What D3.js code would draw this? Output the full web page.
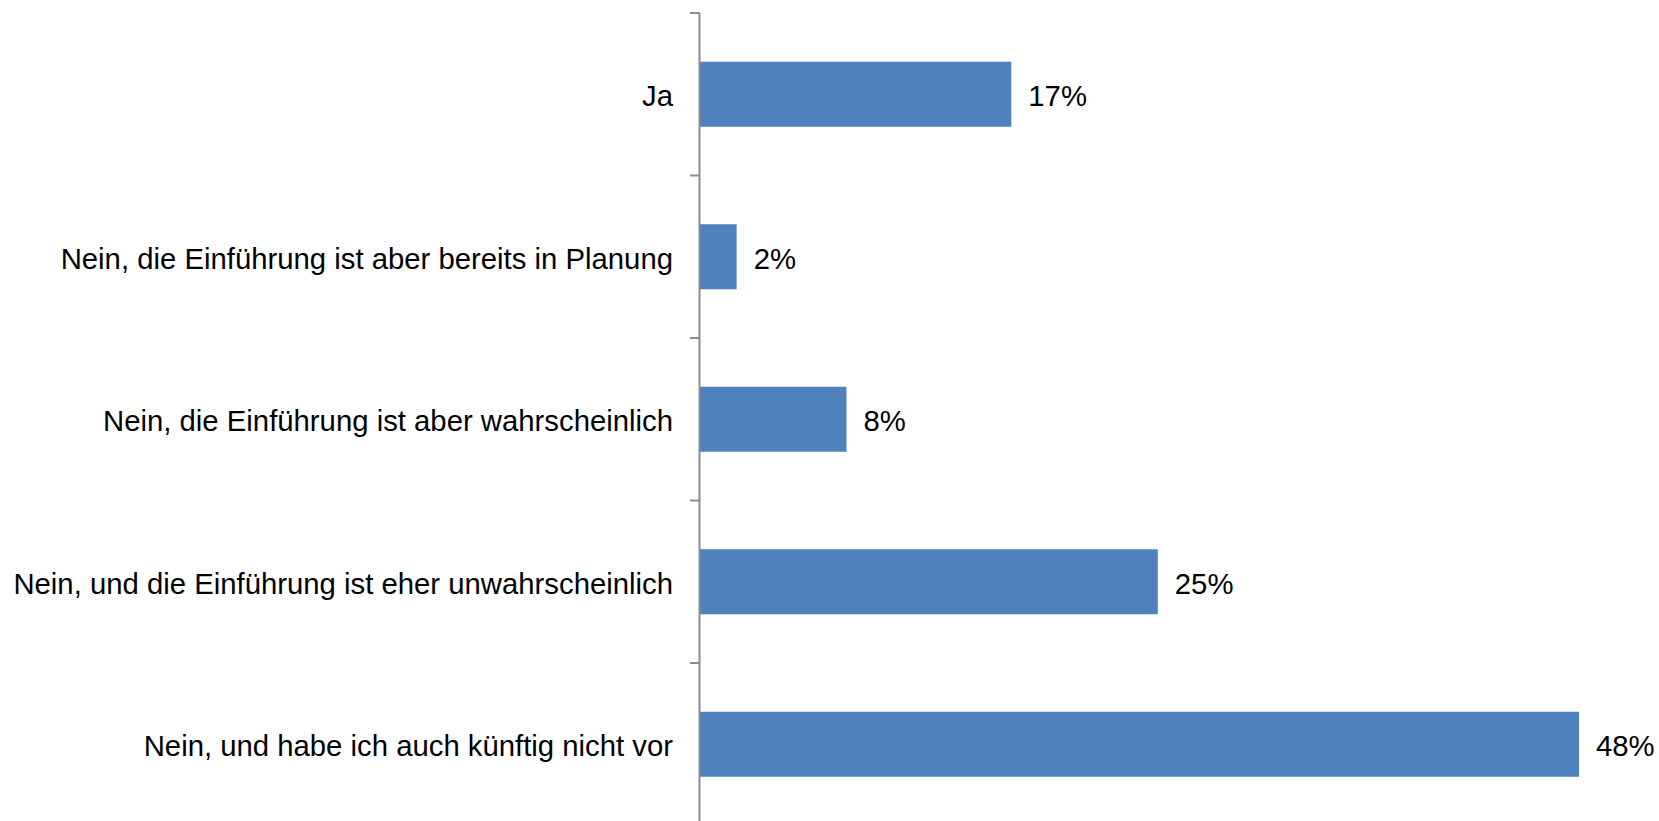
<!DOCTYPE html>
<html>
<head>
<meta charset="utf-8">
<script src="https://cdn.jsdelivr.net/npm/d3@7"></script>
<style>
  html, body { margin: 0; padding: 0; background: #fff; }
  svg { display: block; }
  text { font-family: "Liberation Sans", Arial, sans-serif; fill: #000; }
</style>
</head>
<body>
<svg id="chart" width="1659" height="821"></svg>
<script>
// Survey answers and their shares (percent)
const categories = [
  "Ja",
  "Nein, die Einführung ist aber bereits in Planung",
  "Nein, die Einführung ist aber wahrscheinlich",
  "Nein, und die Einführung ist eher unwahrscheinlich",
  "Nein, und habe ich auch künftig nicht vor"
];
const values = [17, 2, 8, 25, 48];
const valueLabels = ["17%", "2%", "8%", "25%", "48%"];

const svg = d3.select("#chart");
const axisX = 700;
const fontSize = 29.3;

const y = d3.scaleBand()
  .domain(categories)
  .range([13, 825.5])
  .paddingInner(0.6)
  .paddingOuter(0.3);

const x = d3.scaleLinear()
  .domain([0, 48])
  .range([axisX, axisX + 879]);

// bars
svg.append("g").selectAll("rect")
  .data(categories)
  .join("rect")
  .attr("x", x(0))
  .attr("y", d => y(d))
  .attr("width", (d, i) => x(values[i]) - x(0))
  .attr("height", y.bandwidth())
  .attr("fill", "#4F81BD");

// category axis: line with ticks at band boundaries
const axis = svg.append("g");
const step = y.step();
const boundaries = categories.map(c => y(c) - step * y.paddingOuter());
boundaries.push(boundaries[boundaries.length - 1] + step);
axis.append("line")
  .attr("x1", axisX - 0.5).attr("x2", axisX - 0.5)
  .attr("y1", boundaries[0]).attr("y2", 821)
  .attr("stroke", "#8c8c8c").attr("stroke-width", 2);
axis.selectAll("line.tick")
  .data(boundaries)
  .join("line")
  .attr("class", "tick")
  .attr("x1", axisX - 10).attr("x2", axisX - 0.5)
  .attr("y1", d => d).attr("y2", d => d)
  .attr("stroke", "#8c8c8c").attr("stroke-width", 2);

// category labels
svg.append("g").selectAll("text")
  .data(categories)
  .join("text")
  .attr("x", axisX - 27)
  .attr("y", d => y(d) + y.bandwidth() / 2 + 12)
  .attr("text-anchor", "end")
  .style("font-size", fontSize + "px")
  .text(d => d);

// value labels
svg.append("g").selectAll("text")
  .data(categories)
  .join("text")
  .attr("x", (d, i) => x(values[i]) + 17)
  .attr("y", d => y(d) + y.bandwidth() / 2 + 12)
  .style("font-size", fontSize + "px")
  .text((d, i) => valueLabels[i]);
</script>
</body>
</html>
